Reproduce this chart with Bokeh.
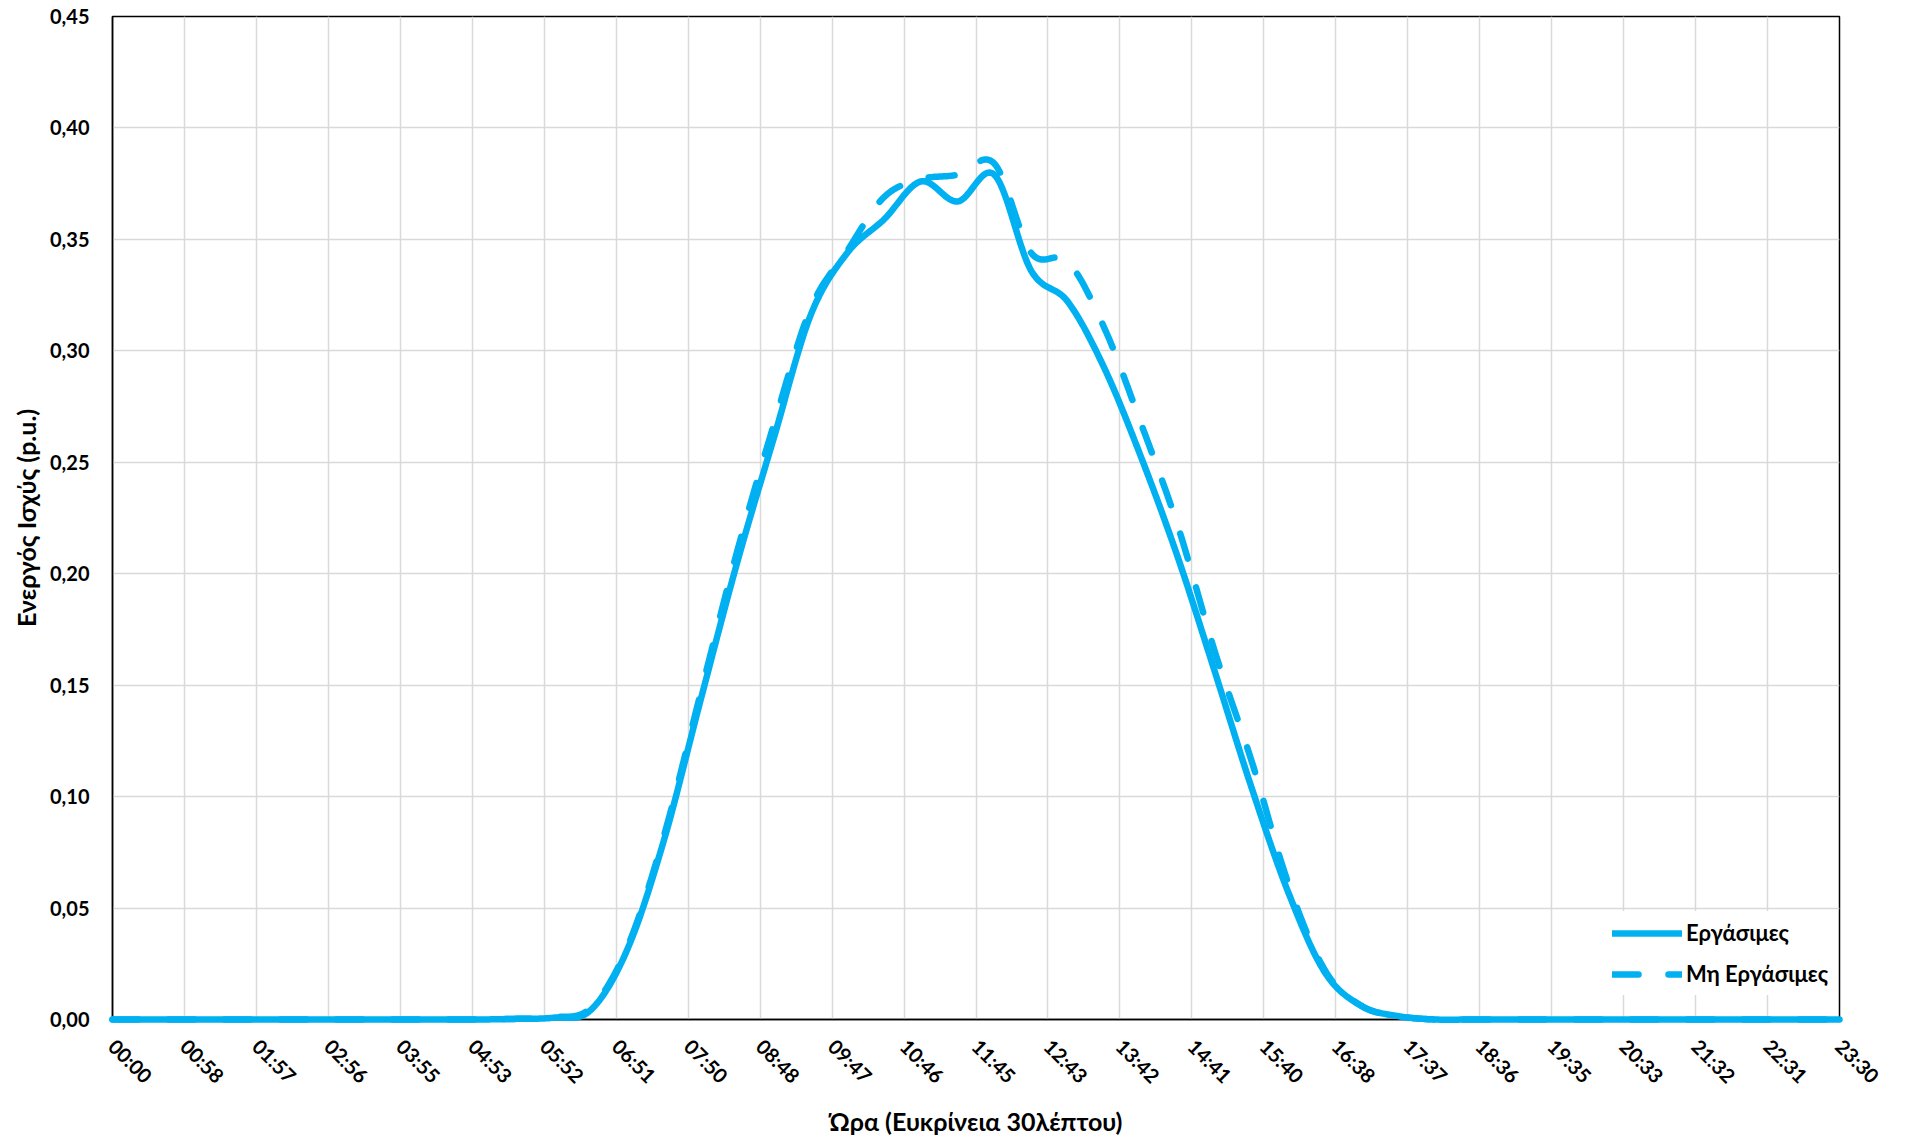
import math
import numpy as np
from bokeh.plotting import figure
from bokeh.models import (Range1d, FixedTicker, CustomJSTickFormatter, Legend, LegendItem)
from bokeh.embed import file_html
from bokeh.resources import INLINE

# ---------------- data (30-minute resolution, 00:00 ... 23:30) ----------------
hours = [i * 0.5 for i in range(48)]

working_days = [
    0, 0, 0, 0, 0, 0, 0, 0, 0, 0, 0,            # 00:00 - 05:00
    0.0003, 0.0008, 0.004, 0.031, 0.080,        # 05:30 - 07:30
    0.143, 0.205, 0.261, 0.316, 0.344,          # 08:00 - 10:00
    0.359, 0.376, 0.367, 0.379, 0.336,          # 10:30 - 12:30
    0.322, 0.292, 0.252, 0.207, 0.156,          # 13:00 - 15:00
    0.104, 0.057, 0.021, 0.006, 0.0015,         # 15:30 - 17:30
    0, 0, 0, 0, 0, 0, 0, 0, 0, 0, 0, 0          # 18:00 - 23:30
]

non_working_days = [
    0, 0, 0, 0, 0, 0, 0, 0, 0, 0, 0,
    0.0003, 0.001, 0.005, 0.032, 0.082,
    0.146, 0.210, 0.267, 0.319, 0.345,
    0.369, 0.377, 0.379, 0.384, 0.344,
    0.340, 0.310, 0.267, 0.221, 0.165,
    0.116, 0.061, 0.022, 0.006, 0.0015,
    0, 0, 0, 0, 0, 0, 0, 0, 0, 0, 0, 0
]

series_names = ["Εργάσιμες", "Μη Εργάσιμες"]

x_tick_labels = ["00:00", "00:58", "01:57", "02:56", "03:55", "04:53", "05:52",
                 "06:51", "07:50", "08:48", "09:47", "10:46", "11:45", "12:43",
                 "13:42", "14:41", "15:40", "16:38", "17:37", "18:36", "19:35",
                 "20:33", "21:32", "22:31", "23:30"]
y_tick_labels = ["0,00", "0,05", "0,10", "0,15", "0,20", "0,25", "0,30",
                 "0,35", "0,40", "0,45"]

x_title = "Ώρα (Ευκρίνεια 30λέπτου)"
y_title = "Ενεργός Ισχύς (p.u.)"

# ---------------- smoothing (Excel-like Bezier through the points) ----------------
def smooth(xs, ys, n=24):
    xs = np.asarray(xs, float)
    ys = np.asarray(ys, float)
    N = len(xs)
    ox, oy = [], []
    for i in range(N - 1):
        i0 = max(i - 1, 0)
        i3 = min(i + 2, N - 1)
        p0 = np.array([xs[i0], ys[i0]])
        p1 = np.array([xs[i], ys[i]])
        p2 = np.array([xs[i + 1], ys[i + 1]])
        p3 = np.array([xs[i3], ys[i3]])
        c1 = p1 + (p2 - p0) / 6.0
        c2 = p2 - (p3 - p1) / 6.0
        for t in np.linspace(0, 1, n, endpoint=False):
            b = ((1 - t) ** 3) * p1 + 3 * ((1 - t) ** 2) * t * c1 + 3 * (1 - t) * t * t * c2 + t ** 3 * p2
            ox.append(b[0])
            oy.append(b[1])
    ox.append(xs[-1])
    oy.append(ys[-1])
    return ox, oy

# ---------------- figure ----------------
FONT = "Lato"
BLUE = "#00B0F0"
GRID = "#D9D9D9"

p = figure(frame_width=1727, frame_height=1003,
           x_range=Range1d(0, 23.5), y_range=Range1d(0, 0.45),
           output_backend="svg", toolbar_location=None,
           min_border_left=112, min_border_top=16, min_border_right=50,
           min_border_bottom=110, background_fill_color="white",
           border_fill_color="white")

p.outline_line_color = "black"
p.outline_line_width = 1.5

x_ticks = [k * 23.5 / 24 for k in range(25)]
y_ticks = [k * 0.05 for k in range(10)]

p.xaxis.ticker = FixedTicker(ticks=x_ticks)
p.yaxis.ticker = FixedTicker(ticks=y_ticks)
p.xaxis.formatter = CustomJSTickFormatter(args=dict(labels=x_tick_labels),
                                          code="return labels[Math.round(tick / 23.5 * 24)];")
p.yaxis.formatter = CustomJSTickFormatter(args=dict(labels=y_tick_labels),
                                          code="return labels[Math.round(tick / 0.05)];")

for ax in (p.xaxis, p.yaxis):
    ax.major_tick_line_color = None
    ax.minor_tick_line_color = None
    ax.major_tick_out = 0
    ax.major_tick_in = 0
    ax.axis_line_color = "black"
    ax.axis_line_width = 1.5
    ax.major_label_text_font = FONT
    ax.major_label_text_font_style = "bold"
    ax.major_label_text_font_size = "20px"
    ax.major_label_text_color = "black"
    ax.axis_label_text_font = FONT
    ax.axis_label_text_font_style = "bold"
    ax.axis_label_text_font_size = "25px"
    ax.axis_label_text_color = "black"

p.xaxis.major_label_orientation = -math.pi / 4
p.xaxis.major_label_standoff = 23
p.xaxis.axis_label = x_title
p.xaxis.axis_label_standoff = 7
p.yaxis.major_label_standoff = 23
p.yaxis.axis_label = y_title
p.yaxis.axis_label_standoff = 6

p.xgrid.grid_line_color = GRID
p.ygrid.grid_line_color = GRID
p.xgrid.grid_line_width = 1.5
p.ygrid.grid_line_width = 1.5

sx1, sy1 = smooth(hours, working_days)
sx2, sy2 = smooth(hours, non_working_days)

r1 = p.line(sx1, sy1, line_color=BLUE, line_width=6.5, line_cap="round",
            line_join="round", level="overlay")
r2 = p.line(sx2, sy2, line_color=BLUE, line_width=6.5, line_cap="round",
            line_join="round", line_dash="26 30", level="overlay")

legend = Legend(items=[LegendItem(label=series_names[0], renderers=[r1]),
                       LegendItem(label=series_names[1], renderers=[r2])],
                location=(1492, 24))
legend.label_text_font = FONT
legend.label_text_font_style = "bold"
legend.label_text_font_size = "22px"
legend.label_text_color = "black"
legend.glyph_width = 70
legend.glyph_height = 24
legend.label_standoff = 4
legend.spacing = 14
legend.padding = 8
legend.margin = 0
legend.border_line_alpha = 0
legend.background_fill_color = "white"
legend.background_fill_alpha = 1.0
p.add_layout(legend)

open("out.html", "w").write(file_html(p, INLINE))
